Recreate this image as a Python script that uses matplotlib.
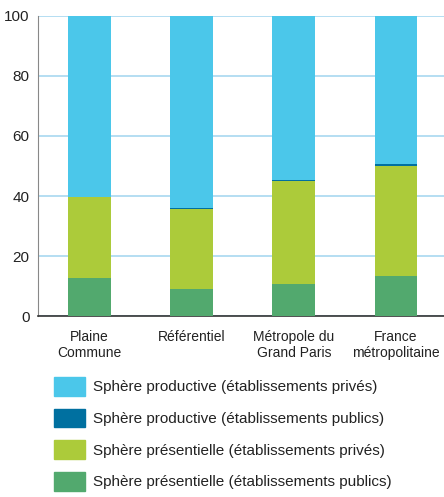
import matplotlib
matplotlib.use('Agg')
import matplotlib.pyplot as plt
from matplotlib.patches import Patch

plt.rcParams['font.family'] = ['Liberation Sans', 'DejaVu Sans']

territoires = ['Plaine\nCommune', 'Référentiel', 'Métropole du\nGrand Paris', 'France\nmétropolitaine']
pres_publics = [12.7, 9.0, 10.7, 13.3]
pres_prives = [27.0, 26.7, 34.3, 36.7]
prod_publics = [0.1, 0.3, 0.3, 0.7]
prod_prives = [60.2, 64.0, 54.7, 49.3]

series = [
    ('Sphère présentielle (établissements publics)', pres_publics, '#52a96e'),
    ('Sphère présentielle (établissements privés)', pres_prives, '#accb3a'),
    ('Sphère productive (établissements publics)', prod_publics, '#0070a0'),
    ('Sphère productive (établissements privés)', prod_prives, '#4bc7ea'),
]

fig = plt.figure(figsize=(4.44, 4.97), dpi=100)
ax = fig.add_axes([0.0856, 0.364, 0.9144, 0.604])

x = range(len(territoires))
bottom = [0.0] * len(territoires)
for label, vals, color in series:
    ax.bar(x, vals, width=0.42, bottom=bottom, color=color, label=label, zorder=3)
    bottom = [b + v for b, v in zip(bottom, vals)]

ax.set_xlim(-0.504, 3.47)
ax.set_ylim(0, 100)
ax.set_yticks([0, 20, 40, 60, 80, 100])
ax.yaxis.grid(True, color='#a8d8f0', linewidth=1.2, zorder=0)
ax.set_xticks(list(x))
ax.set_xticklabels(territoires, fontsize=10, color='#222222', linespacing=1.15)
ax.tick_params(axis='y', labelsize=11, colors='#222222', length=0, pad=6)
ax.tick_params(axis='x', length=0, pad=10)
for s in ['top', 'right']:
    ax.spines[s].set_visible(False)
ax.spines['left'].set_color('#888888')
ax.spines['bottom'].set_color('#333333')
ax.spines['bottom'].set_linewidth(1.2)

handles = [Patch(color=c, label=l) for l, v, c in reversed(series)]
fig.legend(handles=handles, loc='upper left', bbox_to_anchor=(0.1216, 0.2414),
           frameon=False, fontsize=11, handlelength=2.03, handleheight=1.5,
           handletextpad=0.52, labelspacing=0.85, borderpad=0, borderaxespad=0,
           labelcolor='#222222')

fig.savefig('out.png', dpi=100)
